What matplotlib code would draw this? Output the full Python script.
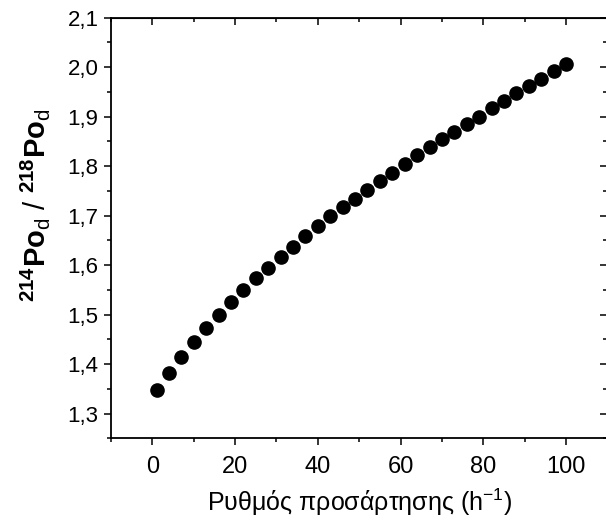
import numpy as np
import matplotlib
matplotlib.use("Agg")
import matplotlib.pyplot as plt
from matplotlib.ticker import MultipleLocator, FixedLocator, FixedFormatter

plt.rcParams['font.family'] = ['Liberation Sans', 'DejaVu Sans']
plt.rcParams['mathtext.fontset'] = 'custom'
plt.rcParams['mathtext.rm'] = 'Liberation Sans'
plt.rcParams['mathtext.it'] = 'Liberation Sans:italic'
plt.rcParams['mathtext.bf'] = 'Liberation Sans:bold'

# attachment rate (h^-1)
rate = [1, 4, 7, 10, 13, 16, 19, 22, 25, 28, 31, 34, 37, 40, 43, 46, 49,
        52, 55, 58, 61, 64, 67, 70, 73, 76, 79, 82, 85, 88, 91, 94, 97, 100]
# 214Po_d / 218Po_d
ratio = [1.347, 1.383, 1.415, 1.445, 1.473, 1.500, 1.526, 1.549, 1.573,
         1.595, 1.617, 1.637, 1.658, 1.680, 1.700, 1.717, 1.734, 1.752,
         1.769, 1.787, 1.804, 1.822, 1.838, 1.854, 1.870, 1.885, 1.900,
         1.917, 1.932, 1.947, 1.961, 1.976, 1.992, 2.006]

yticks = [1.3, 1.4, 1.5, 1.6, 1.7, 1.8, 1.9, 2.0, 2.1]
ytick_labels = ['1,3', '1,4', '1,5', '1,6', '1,7', '1,8', '1,9', '2,0', '2,1']
xticks = [0, 20, 40, 60, 80, 100]

fig = plt.figure(figsize=(6.06, 5.22), dpi=100)
ax = fig.add_axes([0.1832, 0.1603, 0.8191, 0.8058])

ax.plot(rate, ratio, 'o', color='black', markersize=9.5, linestyle='none')

ax.set_xlim(-10, 110)
ax.set_ylim(1.25, 2.1)
ax.xaxis.set_major_locator(FixedLocator(xticks))
ax.xaxis.set_minor_locator(MultipleLocator(10))
ax.yaxis.set_major_locator(FixedLocator(yticks))
ax.yaxis.set_major_formatter(FixedFormatter(ytick_labels))
ax.yaxis.set_minor_locator(MultipleLocator(0.05))

for s in ax.spines.values():
    s.set_linewidth(1.3)

ax.tick_params(which='both', direction='out', width=1.1,
               top=False, right=False)
ax.tick_params(which='major', length=5)
ax.tick_params(which='minor', length=3)
ax.tick_params(axis='x', which='major', pad=8, labelsize=17)
ax.tick_params(axis='y', which='major', pad=4, labelsize=16)

# inward ticks on top and right edges
ax2 = ax.secondary_xaxis('top')
ax2.xaxis.set_major_locator(FixedLocator(xticks))
ax2.xaxis.set_minor_locator(MultipleLocator(10))
ax2.tick_params(which='both', direction='in', labeltop=False, width=1.1)
ax2.tick_params(which='major', length=5)
ax2.tick_params(which='minor', length=3)
ax3 = ax.secondary_yaxis('right')
ax3.yaxis.set_major_locator(FixedLocator(yticks))
ax3.yaxis.set_minor_locator(MultipleLocator(0.05))
ax3.tick_params(which='both', direction='in', labelright=False, width=1.1)
ax3.tick_params(which='major', length=5)
ax3.tick_params(which='minor', length=3)

ax.set_xlabel('Ρυθμός προσάρτησης (h$^{-1}$)', fontsize=18, labelpad=6)
ax.set_ylabel(r'$^{\mathbf{214}}\mathbf{Po}_{\mathrm{d}}\ /\ ^{\mathbf{218}}\mathbf{Po}_{\mathrm{d}}$',
              fontsize=21)
ax.yaxis.set_label_coords(-0.118, 0.555)

fig.savefig('out.png', dpi=100)
